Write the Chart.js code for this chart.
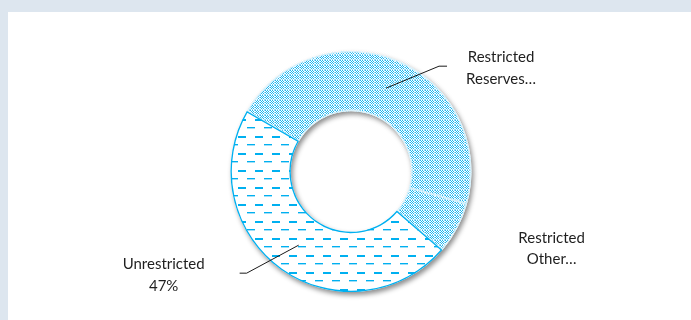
<!DOCTYPE html>
<html>
<head>
<meta charset="utf-8">
<script src="https://cdn.jsdelivr.net/npm/chart.js@4.4.1/dist/chart.umd.min.js"></script>
<style>
  html, body { margin: 0; padding: 0; }
  body { width: 691px; height: 320px; background: #dde6ef; position: relative; overflow: hidden; }
  #panel { position: absolute; left: 8px; top: 12px; right: 0; bottom: 0; background: #fff; }
  #wrap { position: absolute; left: 0; top: 0; width: 691px; height: 320px; }
</style>
</head>
<body>
<div id="panel"></div>
<div id="wrap"><canvas id="mycanvas"></canvas></div>
<script>
// fund balance split
var categories = ['Restricted Reserves', 'Restricted Other', 'Unrestricted'];
var shares = [46, 7, 47];
var labelLines = [['Restricted', 'Reserves…'], ['Restricted', 'Other…'], ['Unrestricted', shares[2] + '%']];

var BLUE = '#00b0f0';

// fine checker with a lighter band every 5px
function checkerPattern() {
	var n = 5;
	var c = document.createElement('canvas');
	c.width = n; c.height = n;
	var g = c.getContext('2d');
	g.fillStyle = '#fff';
	g.fillRect(0, 0, n, n);
	for (var y = 0; y < n; y++) {
		for (var x = 0; x < n; x++) {
			if ((x + y) % 2 == 0) {
				g.fillStyle = (x == n - 1 || y == n - 1) ? '#8ad8f6' : '#1cb6f0';
				g.fillRect(x, y, 1, 1);
			}
		}
	}
	return g.createPattern(c, 'repeat');
}

function dashPattern() {
	var c = document.createElement('canvas');
	c.width = 17; c.height = 17;
	var g = c.getContext('2d');
	g.fillStyle = '#fff';
	g.fillRect(0, 0, 17, 17);
	g.fillStyle = BLUE;
	g.fillRect(0, 0, 8, 2);
	g.fillRect(9, 8, 8, 1);
	g.fillStyle = '#9fdff8';
	g.fillRect(9, 9, 8, 1);
	return g.createPattern(c, 'repeat');
}

// soft drop shadow under the whole ring
var ringShadow = {
	id: 'ringShadow',
	beforeDatasetsDraw: function(chart) {
		var arc = chart.getDatasetMeta(0).data[0];
		if (!arc) return;
		var p = arc.getProps(['x', 'y', 'outerRadius', 'innerRadius'], true);
		var ctx = chart.ctx;
		ctx.save();
		ctx.shadowColor = 'rgba(0,0,0,0.45)';
		ctx.shadowBlur = 5;
		ctx.shadowOffsetX = 2;
		ctx.shadowOffsetY = 3;
		ctx.fillStyle = '#fff';
		ctx.beginPath();
		ctx.arc(p.x, p.y, p.outerRadius, 0, Math.PI * 2);
		ctx.arc(p.x, p.y, p.innerRadius, 0, Math.PI * 2, true);
		ctx.fill('evenodd');
		ctx.restore();
	}
};

// slice labels with leader lines
var sliceLabels = {
	id: 'sliceLabels',
	afterDatasetsDraw: function(chart, args, opts) {
		var ctx = chart.ctx;
		var arcs = chart.getDatasetMeta(0).data;
		ctx.save();
		ctx.font = '15px Lato, "Open Sans", sans-serif';
		ctx.fillStyle = '#1f1f1f';
		ctx.strokeStyle = '#1a1a1a';
		ctx.lineWidth = 1;
		ctx.textAlign = 'center';
		ctx.textBaseline = 'middle';
		for (var i = 0; i < arcs.length; i++) {
			var pos = arcs[i].tooltipPosition();
			var o = opts.place[i];
			if (o.leader) {
				ctx.beginPath();
				ctx.moveTo(pos.x, pos.y);
				ctx.lineTo(pos.x + o.leader[0], pos.y + o.leader[1]);
				ctx.lineTo(pos.x + o.leader[2], pos.y + o.leader[1]);
				ctx.stroke();
			}
			var lines = labelLines[i];
			for (var j = 0; j < lines.length; j++) {
				ctx.fillText(lines[j], pos.x + o.dx, pos.y + o.dy + j * 21.5);
			}
		}
		ctx.restore();
	}
};

var ctx = document.getElementById('mycanvas');
var chk = checkerPattern();

var doughnut = new Chart(ctx, {
	type: 'doughnut',
	data: {
		labels: categories,
		datasets: [{
			data: shares,
			backgroundColor: [chk, chk, dashPattern()],
			borderColor: ['#d9f2fc', '#d9f2fc', BLUE],
			borderWidth: 1,
			borderAlign: 'inner',
			hoverOffset: 0
		}]
	},
	options: {
		responsive: true,
		maintainAspectRatio: false,
		animation: false,
		rotation: -60,
		cutout: '50%',
		layout: { padding: { top: 51, bottom: 28, left: 200, right: 189 } },
		plugins: {
			legend: { display: false },
			tooltip: { enabled: false },
			sliceLabels: {
				place: [
					{ dx: 115, dy: -31, leader: [53, -22, 61] },
					{ dx: 121, dy: 23.5 },
					{ dx: -135, dy: 19, leader: [-52, 28, -59] }
				]
			}
		}
	},
	plugins: [ringShadow, sliceLabels]
});
</script>
</body>
</html>
